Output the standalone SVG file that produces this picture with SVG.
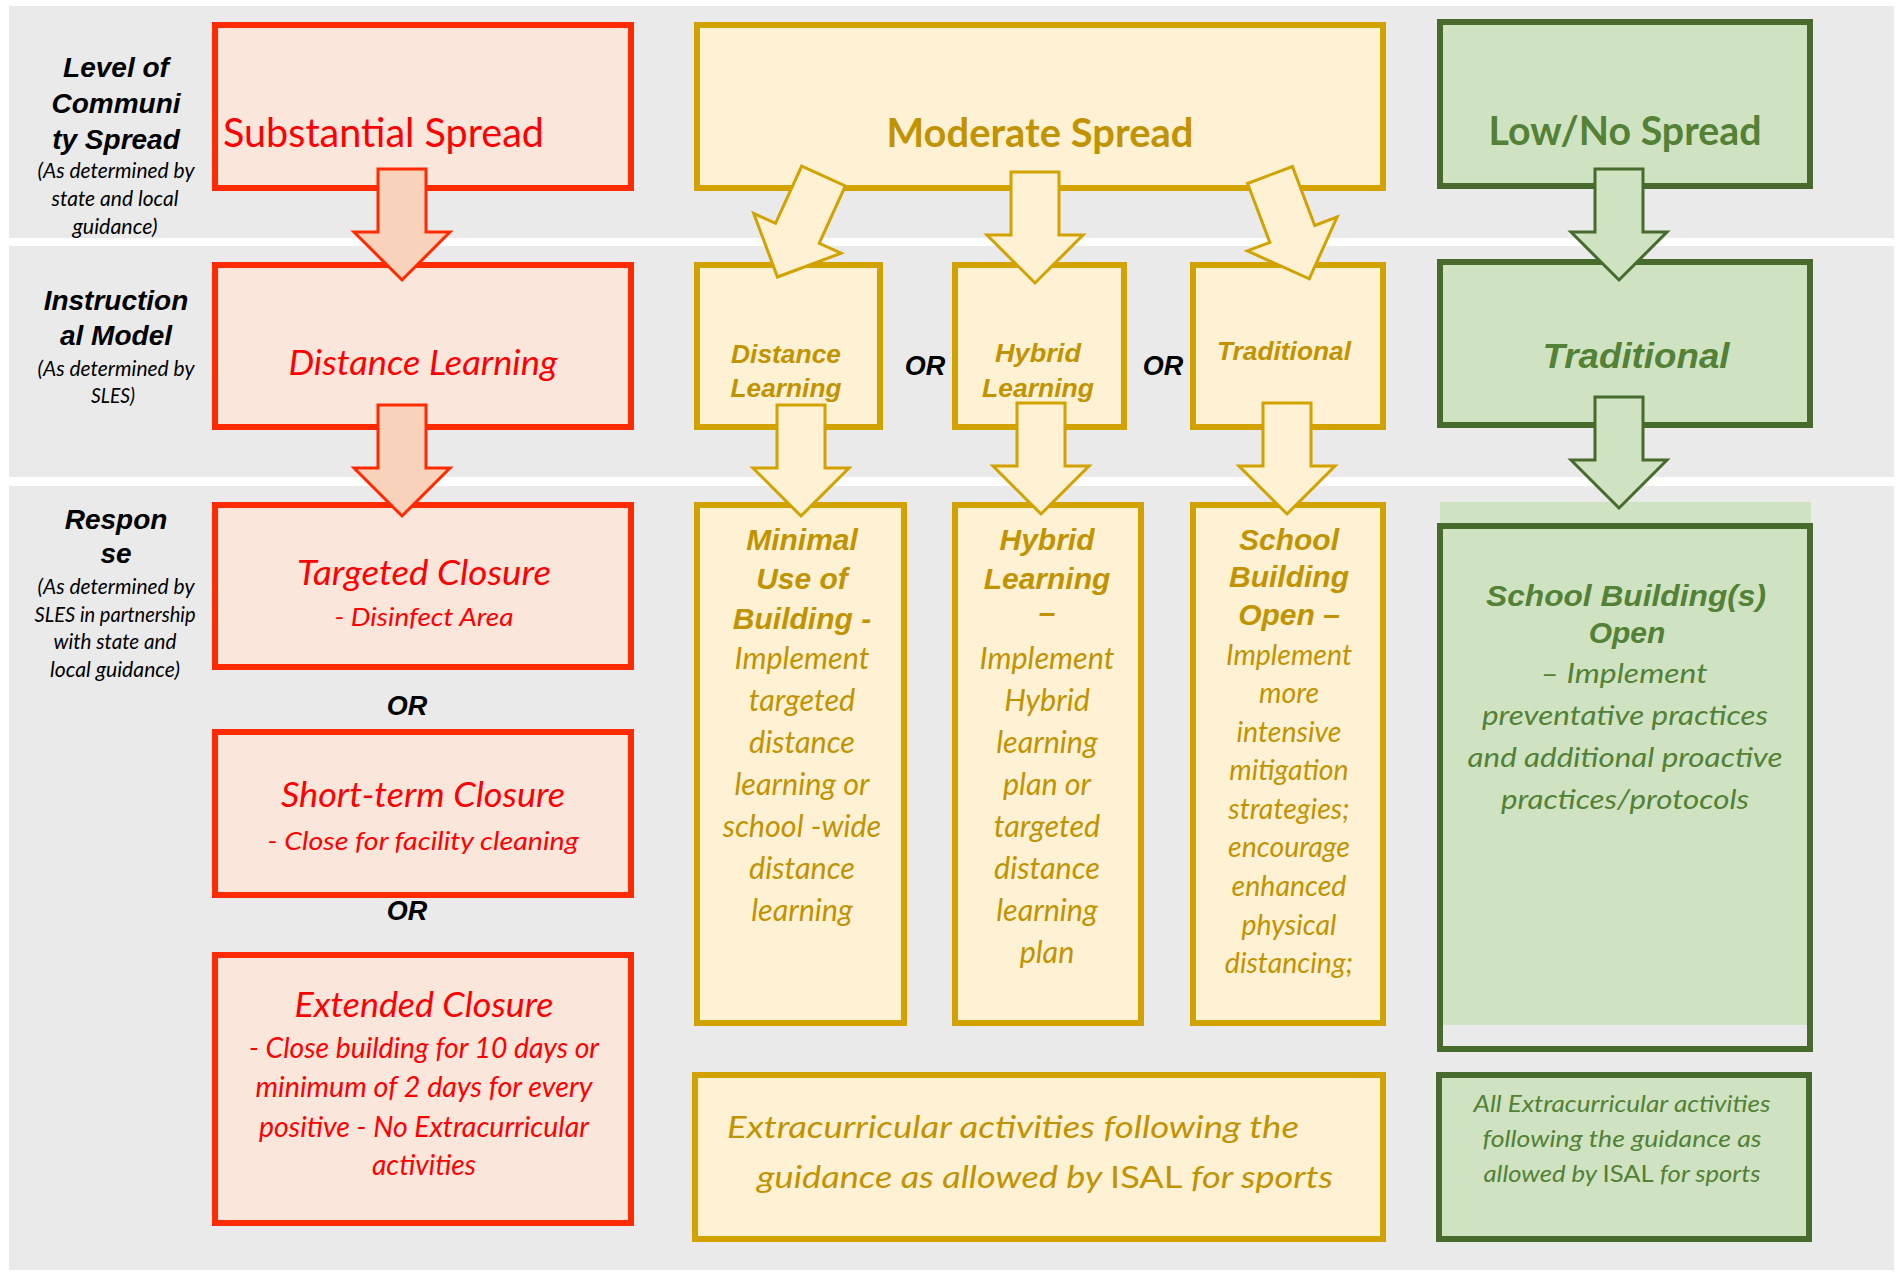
<svg xmlns="http://www.w3.org/2000/svg" width="1898" height="1273" viewBox="0 0 1898 1273">
<style>
.band{fill:#EAEAEA}
.rbox{fill:#FBE6DB;stroke:#FF2B00;stroke-width:6}
.gbox{fill:#FFF1D4;stroke:#D1A200;stroke-width:6}
.grbox{fill:#CFE3C2;stroke:#476B2C;stroke-width:6}
.rarrow{fill:#F8D2BA;stroke:#FF2B00;stroke-width:3;stroke-linejoin:miter}
.garrow{fill:#FFF1D4;stroke:#D1A200;stroke-width:3}
.grarrow{fill:#CFE3C2;stroke:#476B2C;stroke-width:3}
.lbl{font-family:"Liberation Sans",Arial,sans-serif;font-weight:bold;font-style:italic;font-size:28px;fill:#000;text-anchor:middle}
.sub{font-family:Lato,"Liberation Sans",sans-serif;font-style:italic;font-size:20.5px;fill:#000;text-anchor:middle}
.or{font-family:"Liberation Sans",Arial,sans-serif;font-weight:bold;font-style:italic;font-size:27px;fill:#000;text-anchor:middle}
.rt{font-family:Lato,"Liberation Sans",sans-serif;font-style:italic;fill:#FF0000;text-anchor:middle}
.gt{font-family:Lato,"Liberation Sans",sans-serif;font-style:italic;fill:#C29300;text-anchor:middle}
.gb{font-family:"Liberation Sans",Arial,sans-serif;font-weight:bold;font-style:italic;fill:#C29300;text-anchor:middle}
.grt{font-family:Lato,"Liberation Sans",sans-serif;font-style:italic;fill:#538135;text-anchor:middle}
.grb{font-family:"Liberation Sans",Arial,sans-serif;font-weight:bold;font-style:italic;fill:#538135;text-anchor:middle}
.head{font-family:Lato,"Liberation Sans",sans-serif;font-size:40px}
</style>
<defs>
<path id="arr" d="M-24,0 H24 V63 H48 L0,111 L-48,63 H-24 Z"/>
</defs>

<g id="background">
<rect class="band" x="9" y="6" width="1885" height="232"/>
<rect class="band" x="9" y="246" width="1885" height="231"/>
<rect class="band" x="9" y="486" width="1885" height="784"/>
</g>

<g id="row-labels">
<text class="lbl" x="116" y="77">Level of</text>
<text class="lbl" x="116" y="113">Communi</text>
<text class="lbl" x="116" y="149">ty Spread</text>
<text class="sub" x="116" y="178" textLength="157" lengthAdjust="spacingAndGlyphs">(As determined by</text>
<text class="sub" x="115" y="206" textLength="127" lengthAdjust="spacingAndGlyphs">state and local</text>
<text class="sub" x="115" y="234" textLength="85" lengthAdjust="spacingAndGlyphs">guidance)</text>
<text class="lbl" x="116" y="310">Instruction</text>
<text class="lbl" x="116" y="345">al Model</text>
<text class="sub" x="116" y="376" textLength="157" lengthAdjust="spacingAndGlyphs">(As determined by</text>
<text class="sub" x="113" y="403" textLength="44" lengthAdjust="spacingAndGlyphs">SLES)</text>
<text class="lbl" x="116" y="529">Respon</text>
<text class="lbl" x="116" y="563">se</text>
<text class="sub" x="116" y="594" textLength="157" lengthAdjust="spacingAndGlyphs">(As determined by</text>
<text class="sub" x="115" y="622" textLength="161" lengthAdjust="spacingAndGlyphs">SLES in partnership</text>
<text class="sub" x="115" y="649" textLength="123" lengthAdjust="spacingAndGlyphs">with state and</text>
<text class="sub" x="115" y="677" textLength="130" lengthAdjust="spacingAndGlyphs">local guidance)</text>
</g>

<g id="substantial-spread">
<rect class="rbox" x="215" y="25" width="416" height="163"/>
<text class="head" x="223" y="147" fill="#FF0000" textLength="321" lengthAdjust="spacingAndGlyphs">Substantial Spread</text>
</g>
<g id="red-distance-learning">
<rect class="rbox" x="215" y="265" width="416" height="162"/>
<text class="rt" x="423" y="375" font-size="35" textLength="269" lengthAdjust="spacingAndGlyphs">Distance Learning</text>
</g>
<g id="targeted-closure">
<rect class="rbox" x="215" y="505" width="416" height="162"/>
<text class="rt" x="424" y="585" font-size="35" textLength="254" lengthAdjust="spacingAndGlyphs">Targeted Closure</text>
<text class="rt" x="424" y="626" font-size="26" textLength="179" lengthAdjust="spacingAndGlyphs">- Disinfect Area</text>
</g>
<text class="or" x="407" y="715">OR</text>
<g id="short-term-closure">
<rect class="rbox" x="215" y="732" width="416" height="163"/>
<text class="rt" x="423" y="807" font-size="35" textLength="284" lengthAdjust="spacingAndGlyphs">Short-term Closure</text>
<text class="rt" x="423" y="850" font-size="26" textLength="311" lengthAdjust="spacingAndGlyphs">- Close for facility cleaning</text>
</g>
<text class="or" x="407" y="920">OR</text>
<g id="extended-closure">
<rect class="rbox" x="215" y="955" width="416" height="268"/>
<text class="rt" x="424" y="1017" font-size="35" textLength="259" lengthAdjust="spacingAndGlyphs">Extended Closure</text>
<text class="rt" x="424" y="1058" font-size="28" textLength="350" lengthAdjust="spacingAndGlyphs">- Close building for 10 days or</text>
<text class="rt" x="424" y="1097" font-size="28" textLength="337" lengthAdjust="spacingAndGlyphs">minimum of 2 days for every</text>
<text class="rt" x="424" y="1137" font-size="28" textLength="330" lengthAdjust="spacingAndGlyphs">positive - No Extracurricular</text>
<text class="rt" x="424" y="1175" font-size="28" textLength="104" lengthAdjust="spacingAndGlyphs">activities</text>
</g>

<g id="moderate-spread">
<rect class="gbox" x="697" y="25" width="686" height="163"/>
<text class="head" x="1040" y="147" fill="#C29300" font-weight="bold" text-anchor="middle" textLength="307" lengthAdjust="spacingAndGlyphs">Moderate Spread</text>
</g>
<g id="gold-distance-learning">
<rect class="gbox" x="697" y="265" width="183" height="162"/>
<text class="gb" x="786" y="363" font-size="26" textLength="110" lengthAdjust="spacingAndGlyphs">Distance</text>
<text class="gb" x="786" y="397" font-size="26" textLength="111" lengthAdjust="spacingAndGlyphs">Learning</text>
</g>
<text class="or" x="925" y="375">OR</text>
<g id="gold-hybrid-learning">
<rect class="gbox" x="955" y="265" width="169" height="162"/>
<text class="gb" x="1038" y="362" font-size="26" textLength="86" lengthAdjust="spacingAndGlyphs">Hybrid</text>
<text class="gb" x="1038" y="397" font-size="26" textLength="112" lengthAdjust="spacingAndGlyphs">Learning</text>
</g>
<text class="or" x="1163" y="375">OR</text>
<g id="gold-traditional">
<rect class="gbox" x="1193" y="265" width="190" height="162"/>
<text class="gb" x="1284" y="360" font-size="26" textLength="134" lengthAdjust="spacingAndGlyphs">Traditional</text>
</g>

<g id="minimal-use">
<rect class="gbox" x="697" y="505" width="207" height="518"/>
<text class="gb" x="802" y="550" font-size="30">Minimal</text>
<text class="gb" x="802" y="589" font-size="30">Use of</text>
<text class="gb" x="802" y="629" font-size="30">Building -</text>
<text class="gt" x="802" y="669" font-size="30.5">Implement</text>
<text class="gt" x="802" y="711" font-size="30.5">targeted</text>
<text class="gt" x="802" y="753" font-size="30.5">distance</text>
<text class="gt" x="802" y="795" font-size="30.5">learning or</text>
<text class="gt" x="802" y="837" font-size="30.5">school -wide</text>
<text class="gt" x="802" y="879" font-size="30.5">distance</text>
<text class="gt" x="802" y="921" font-size="30.5">learning</text>
</g>
<g id="hybrid-response">
<rect class="gbox" x="955" y="505" width="186" height="518"/>
<text class="gb" x="1047" y="550" font-size="30">Hybrid</text>
<text class="gb" x="1047" y="589" font-size="30">Learning</text>
<text class="gb" x="1047" y="623" font-size="30">–</text>
<text class="gt" x="1047" y="669" font-size="30.5">Implement</text>
<text class="gt" x="1047" y="711" font-size="30.5">Hybrid</text>
<text class="gt" x="1047" y="753" font-size="30.5">learning</text>
<text class="gt" x="1047" y="795" font-size="30.5">plan or</text>
<text class="gt" x="1047" y="837" font-size="30.5">targeted</text>
<text class="gt" x="1047" y="879" font-size="30.5">distance</text>
<text class="gt" x="1047" y="921" font-size="30.5">learning</text>
<text class="gt" x="1047" y="963" font-size="30.5">plan</text>
</g>
<g id="school-building-open">
<rect class="gbox" x="1193" y="505" width="190" height="518"/>
<text class="gb" x="1289" y="550" font-size="30">School</text>
<text class="gb" x="1289" y="587" font-size="30">Building</text>
<text class="gb" x="1289" y="625" font-size="30">Open –</text>
<text class="gt" x="1289" y="665" font-size="28.5">Implement</text>
<text class="gt" x="1289" y="703" font-size="28.5">more</text>
<text class="gt" x="1289" y="742" font-size="28.5">intensive</text>
<text class="gt" x="1289" y="780" font-size="28.5">mitigation</text>
<text class="gt" x="1289" y="819" font-size="28.5">strategies;</text>
<text class="gt" x="1289" y="857" font-size="28.5">encourage</text>
<text class="gt" x="1289" y="896" font-size="28.5">enhanced</text>
<text class="gt" x="1289" y="935" font-size="28.5">physical</text>
<text class="gt" x="1289" y="973" font-size="28.5">distancing;</text>
</g>
<g id="gold-extracurricular">
<rect class="gbox" x="695" y="1075" width="688" height="164"/>
<text class="gt" x="727" y="1138" font-size="31" style="text-anchor:start" textLength="572" lengthAdjust="spacingAndGlyphs">Extracurricular activities following the</text>
<text class="gt" x="757" y="1188" font-size="31" style="text-anchor:start" textLength="576" lengthAdjust="spacingAndGlyphs">guidance as allowed by <tspan font-style="normal">ISAL</tspan> for sports</text>
</g>

<g id="low-no-spread">
<rect class="grbox" x="1440" y="22" width="370" height="164"/>
<text class="head" x="1625" y="145" fill="#538135" font-weight="bold" text-anchor="middle" textLength="273" lengthAdjust="spacingAndGlyphs">Low/No Spread</text>
</g>
<g id="green-traditional">
<rect class="grbox" x="1440" y="262" width="370" height="163"/>
<text class="grb" x="1636" y="368" font-size="35" textLength="187" lengthAdjust="spacingAndGlyphs">Traditional</text>
</g>
<g id="green-school-open">
<rect x="1440" y="502" width="371" height="523" fill="#CFE3C2"/>
<rect x="1440" y="526" width="370" height="523" fill="none" stroke="#476B2C" stroke-width="6"/>
<text class="grb" x="1626" y="606" font-size="30" textLength="280" lengthAdjust="spacingAndGlyphs">School Building(s)</text>
<text class="grb" x="1627" y="643" font-size="30">Open</text>
<text class="grt" x="1624" y="683" font-size="27" font-family="'Open Sans',sans-serif" textLength="167" lengthAdjust="spacingAndGlyphs">– Implement</text>
<text class="grt" x="1625" y="725" font-size="27" font-family="'Open Sans',sans-serif" textLength="286" lengthAdjust="spacingAndGlyphs">preventative practices</text>
<text class="grt" x="1625" y="767" font-size="27" font-family="'Open Sans',sans-serif" textLength="315" lengthAdjust="spacingAndGlyphs">and additional proactive</text>
<text class="grt" x="1625" y="809" font-size="27" font-family="'Open Sans',sans-serif" textLength="248" lengthAdjust="spacingAndGlyphs">practices/protocols</text>
</g>
<g id="green-extracurricular">
<rect class="grbox" x="1439" y="1075" width="370" height="164"/>
<text class="grt" x="1622" y="1112" font-size="23" textLength="297" lengthAdjust="spacingAndGlyphs">All Extracurricular activities</text>
<text class="grt" x="1622" y="1147" font-size="23" textLength="279" lengthAdjust="spacingAndGlyphs">following the guidance as</text>
<text class="grt" x="1622" y="1182" font-size="23" textLength="277" lengthAdjust="spacingAndGlyphs">allowed by <tspan font-style="normal">ISAL</tspan> for sports</text>
</g>

<g id="connectors">
<use href="#arr" class="rarrow" transform="translate(402,169)"/>
<use href="#arr" class="rarrow" transform="translate(402,405)"/>
<use href="#arr" class="garrow" transform="translate(823.5,176) rotate(24.5)"/>
<use href="#arr" class="garrow" transform="translate(1035,172)"/>
<use href="#arr" class="garrow" transform="translate(1270,175) rotate(-20.7)"/>
<use href="#arr" class="garrow" transform="translate(801,405)"/>
<use href="#arr" class="garrow" transform="translate(1041,403)"/>
<use href="#arr" class="garrow" transform="translate(1287,403)"/>
<use href="#arr" class="grarrow" transform="translate(1619,169)"/>
<use href="#arr" class="grarrow" transform="translate(1619,397)"/>
</g>
</svg>
